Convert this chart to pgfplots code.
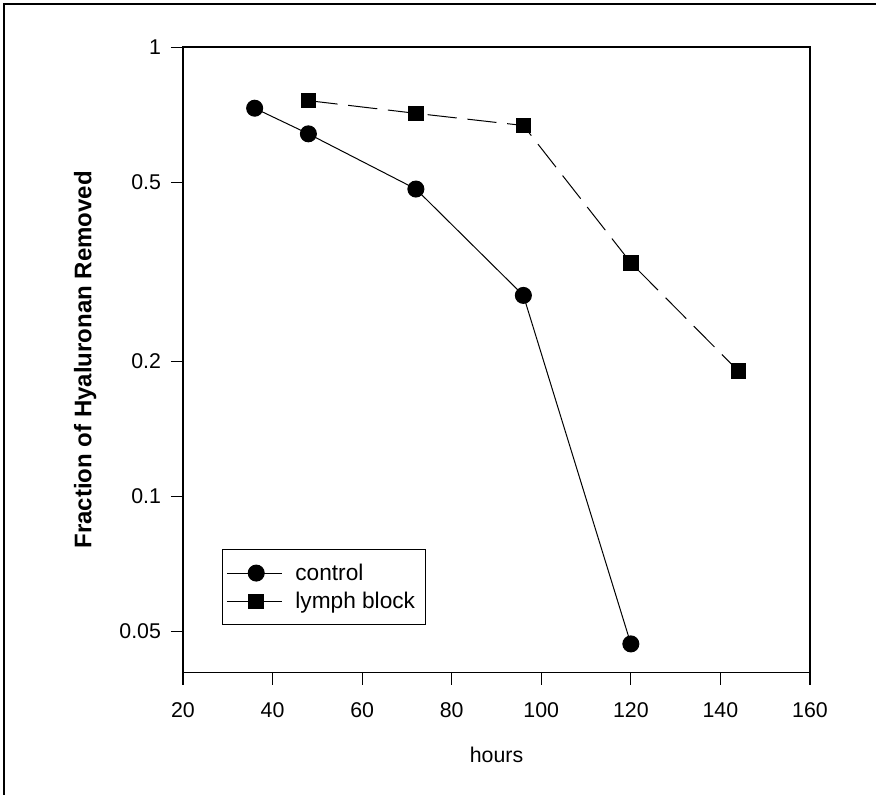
\documentclass[border=0pt]{standalone}
\usepackage{fontspec}
\setmainfont{Liberation Sans}
\usepackage{pgfplots}
\pgfplotsset{compat=1.18}

% hyaluronan removal, log scale on y
\begin{document}
\begin{tikzpicture}
\useasboundingbox (0pt,0pt) rectangle (657pt,-596.25pt);
\draw[line width=2.2pt] (3pt,-596.25pt) -- (3pt,-3pt) -- (657pt,-3pt);
\begin{axis}[
    at={(137.25pt,-504.4pt)}, anchor=south west,
    scale only axis,
    width=470.25pt, height=469.1pt,
    xmin=20, xmax=160,
    ymode=log, ymin=0.0405, ymax=1,
    xtick={20,40,...,160},
    ytick={0.05,0.1,0.2,0.5,1},
    yticklabels={0.05,0.1,0.2,0.5,1},
    minor tick length=0pt,
    tick align=outside,
    major tick length=9pt,
    xtick pos=bottom, ytick pos=left,
    axis line style={line width=0.9pt},
    every tick/.style={line width=0.8pt, black},
    /pgf/number format/assume math mode=true,
    tick label style={font=\fontsize{16}{19}\selectfont},
    xticklabel style={yshift=-10pt},
    yticklabel style={xshift=-4pt},
    xlabel={hours},
    xlabel style={font=\fontsize{16}{19}\selectfont, at={(axis description cs:0.5,-0.132)}, anchor=center},
    ylabel={Fraction of Hyaluronan Removed},
    ylabel style={font=\fontsize{18}{21}\selectfont\bfseries, at={(axis description cs:-0.156,0.5)}, anchor=center},
    legend image code/.code={
        \draw[#1] (0pt,0pt) -- (41pt,0pt);
        \draw[#1, solid] plot coordinates {(22pt,0pt)};
        \path (46pt,0pt);
    },
    legend style={at={(0.062,0.197)}, anchor=north west, draw=black, line width=0.8pt,
        font=\fontsize{17}{20}\selectfont, inner xsep=3pt, inner ysep=9pt,
        row sep=4.5pt, nodes={inner xsep=5pt, inner ysep=1.5pt}},
    legend cell align=left,
]
\addplot[black, line width=0.75pt, mark=*, mark size=6pt,
    mark options={solid, fill=black}]
    coordinates {(36,0.731) (48,0.641) (72,0.483) (96,0.280) (120,0.0469)};
\addlegendentry{control}
\addplot[black, line width=0.75pt, dash pattern=on 22pt off 8pt, mark=square*, mark size=5.5pt,
    mark options={solid, fill=black}, legend image post style={solid}]
    coordinates {(48,0.760) (72,0.712) (96,0.669) (120,0.331) (144,0.190)};
\addlegendentry{lymph block}
\end{axis}
\end{tikzpicture}
\end{document}
